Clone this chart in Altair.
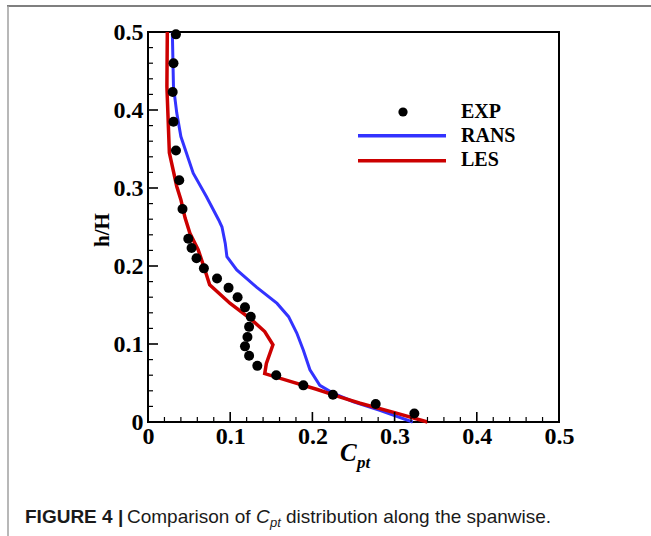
import altair as alt
import pandas as pd

# ---------------- data ----------------
exp_x = [0.034, 0.031, 0.030, 0.031, 0.034, 0.038, 0.042, 0.049, 0.053, 0.059,
         0.068, 0.084, 0.098, 0.109, 0.118, 0.125, 0.123, 0.121, 0.118, 0.123,
         0.133, 0.156, 0.189, 0.225, 0.277, 0.324]
exp_y = [0.497, 0.460, 0.423, 0.385, 0.348, 0.310, 0.273, 0.235, 0.223, 0.210,
         0.197, 0.184, 0.172, 0.160, 0.147, 0.135, 0.122, 0.109, 0.097, 0.085,
         0.072, 0.060, 0.047, 0.035, 0.023, 0.011]

rans_x = [0.0296, 0.031, 0.035, 0.040, 0.055, 0.071, 0.086, 0.090, 0.094, 0.096,
          0.108, 0.132, 0.157, 0.171, 0.181, 0.189, 0.197, 0.209, 0.225, 0.250,
          0.282, 0.322]
rans_y = [0.500, 0.430, 0.396, 0.366, 0.319, 0.289, 0.259, 0.250, 0.229, 0.212,
          0.195, 0.173, 0.152, 0.135, 0.114, 0.092, 0.067, 0.047, 0.037, 0.026,
          0.015, 0.000]

les_x = [0.0235, 0.023, 0.026, 0.035, 0.040, 0.045, 0.051, 0.061, 0.068, 0.075,
         0.100, 0.124, 0.142, 0.152, 0.144, 0.142, 0.173, 0.205, 0.234, 0.258,
         0.300, 0.340]
les_y = [0.500, 0.430, 0.345, 0.302, 0.285, 0.262, 0.242, 0.221, 0.199, 0.176,
         0.152, 0.133, 0.116, 0.099, 0.075, 0.062, 0.052, 0.042, 0.032, 0.024,
         0.012, 0.000]

major_ticks = [0.0, 0.1, 0.2, 0.3, 0.4, 0.5]
minor_ticks = [0.02, 0.04, 0.06, 0.08, 0.12, 0.14, 0.16, 0.18, 0.22, 0.24, 0.26,
               0.28, 0.32, 0.34, 0.36, 0.38, 0.42, 0.44, 0.46, 0.48]

legend_labels = ["EXP", "RANS", "LES"]
caption_bold = "FIGURE 4 |"
caption_a = "Comparison of"
caption_c = "C"
caption_sub = "pt"
caption_b = "distribution along the spanwise."
y_title = "h/H"

# ---------------- styling ----------------
W, H = 411, 390
BLUE = "#3333ff"
RED = "#cc0000"
SERIF = "Liberation Serif"
SANS = "Liberation Sans"

xs = alt.Scale(domain=[0, 0.5], nice=False, zero=False)
ys = alt.Scale(domain=[0, 0.5], nice=False, zero=False)

df_exp = pd.DataFrame({"x": exp_x, "y": exp_y})
df_rans = pd.DataFrame({"x": rans_x, "y": rans_y, "i": list(range(len(rans_x)))})
df_les = pd.DataFrame({"x": les_x, "y": les_y, "i": list(range(len(les_x)))})
df_major = pd.DataFrame({"x": major_ticks, "y": major_ticks})
df_minor = pd.DataFrame({"x": minor_ticks, "y": minor_ticks})
one = pd.DataFrame({"k": [0]})

xaxis = alt.Axis(values=major_ticks, format=".1~f", ticks=False, domain=False,
                 grid=False, labelFont=SERIF, labelFontWeight="bold",
                 labelFontSize=24, labelColor="black", labelPadding=2,
                 labelFlush=False, labelOverlap=False, title=None)
yaxis = alt.Axis(values=major_ticks, format=".1~f", ticks=False, domain=False,
                 grid=False, labelFont=SERIF, labelFontWeight="bold",
                 labelFontSize=24, labelColor="black", labelPadding=5,
                 labelFlush=False, labelOverlap=False, title=None)

X = alt.X("x:Q", scale=xs, axis=xaxis)
Y = alt.Y("y:Q", scale=ys, axis=yaxis)

rans = alt.Chart(df_rans).mark_line(color=BLUE, strokeWidth=3).encode(x=X, y=Y, order="i:Q")
les = alt.Chart(df_les).mark_line(color=RED, strokeWidth=3.5).encode(x=X, y=Y, order="i:Q")
pts = alt.Chart(df_exp).mark_point(filled=True, color="black", size=100, opacity=1).encode(x=X, y=Y)

# inward ticks
xt_major = alt.Chart(df_major).mark_rule(color="black", strokeWidth=1.6).encode(
    x=X, y=alt.value(H), y2=alt.value(H - 10))
xt_minor = alt.Chart(df_minor).mark_rule(color="black", strokeWidth=1.2).encode(
    x=X, y=alt.value(H), y2=alt.value(H - 5))
yt_major = alt.Chart(df_major).mark_rule(color="black", strokeWidth=1.6).encode(
    y=Y, x=alt.value(0), x2=alt.value(10))
yt_minor = alt.Chart(df_minor).mark_rule(color="black", strokeWidth=1.2).encode(
    y=Y, x=alt.value(0), x2=alt.value(5))

# axis titles
ytitle = alt.Chart(one).mark_text(text=y_title, font=SERIF, fontWeight="bold",
                                  fontSize=21, angle=270, color="black",
                                  align="center", baseline="middle").encode(
    x=alt.value(-45), y=alt.value(198))
xt_c = alt.Chart(one).mark_text(text=caption_c, font=SERIF, fontWeight="bold",
                                fontStyle="italic", fontSize=25, color="black",
                                align="left", baseline="alphabetic").encode(
    x=alt.value(192), y=alt.value(429))
xt_s = alt.Chart(one).mark_text(text=caption_sub, font=SERIF, fontWeight="bold",
                                fontStyle="italic", fontSize=17, color="black",
                                align="left", baseline="alphabetic").encode(
    x=alt.value(209), y=alt.value(436))

# legend
leg_dot = alt.Chart(one).mark_point(filled=True, color="black", size=85, opacity=1).encode(
    x=alt.value(255), y=alt.value(80))
leg_rans = alt.Chart(one).mark_rule(color=BLUE, strokeWidth=3.5, strokeCap="butt").encode(
    x=alt.value(210), x2=alt.value(298), y=alt.value(103.7))
leg_les = alt.Chart(one).mark_rule(color=RED, strokeWidth=3.5, strokeCap="butt").encode(
    x=alt.value(210), x2=alt.value(298), y=alt.value(128.7))
leg_texts = [
    alt.Chart(one).mark_text(text=lab, font=SERIF, fontWeight="bold", fontSize=20,
                             color="black", align="left", baseline="middle").encode(
        x=alt.value(313), y=alt.value(yy))
    for lab, yy in zip(legend_labels, [80, 103.5, 128])
]

# caption and frame decorations
cap1 = alt.Chart(one).mark_text(text=caption_bold, font=SANS, fontWeight="bold",
                                fontSize=19, color="#1a1a1a", align="left",
                                baseline="alphabetic").encode(x=alt.value(-123), y=alt.value(491))
cap2 = alt.Chart(one).mark_text(text=caption_a, font=SANS, fontSize=19, color="#1a1a1a",
                                align="left", baseline="alphabetic").encode(
    x=alt.value(-21), y=alt.value(491))
cap3 = alt.Chart(one).mark_text(text=caption_c, font=SANS, fontStyle="italic", fontSize=19,
                                color="#1a1a1a", align="left", baseline="alphabetic").encode(
    x=alt.value(108), y=alt.value(491))
cap4 = alt.Chart(one).mark_text(text=caption_sub, font=SANS, fontStyle="italic", fontSize=13,
                                color="#1a1a1a", align="left", baseline="alphabetic").encode(
    x=alt.value(122), y=alt.value(495))
cap5 = alt.Chart(one).mark_text(text=caption_b, font=SANS, fontSize=19, color="#1a1a1a",
                                align="left", baseline="alphabetic").encode(
    x=alt.value(138), y=alt.value(491))
top_line = alt.Chart(one).mark_rule(color="#7f7f7f", strokeWidth=2).encode(
    x=alt.value(-141), x2=alt.value(503), y=alt.value(-26))
left_line = alt.Chart(one).mark_rule(color="#a0a0a0", strokeWidth=1.5).encode(
    x=alt.value(-140), y=alt.value(-26), y2=alt.value(504))

chart = alt.layer(
    rans, les, pts, xt_major, xt_minor, yt_major, yt_minor,
    ytitle, xt_c, xt_s, leg_dot, leg_rans, leg_les, *leg_texts,
    cap1, cap2, cap3, cap4, cap5, top_line, left_line,
).properties(
    width=W, height=H,
    autosize=alt.AutoSizeParams(type="none"),
    padding={"left": 148, "top": 32, "right": 92, "bottom": 114},
    background="white",
).configure_view(stroke="black", strokeWidth=2)

chart.save("out.html", embed_options={"renderer": "svg", "actions": False})
